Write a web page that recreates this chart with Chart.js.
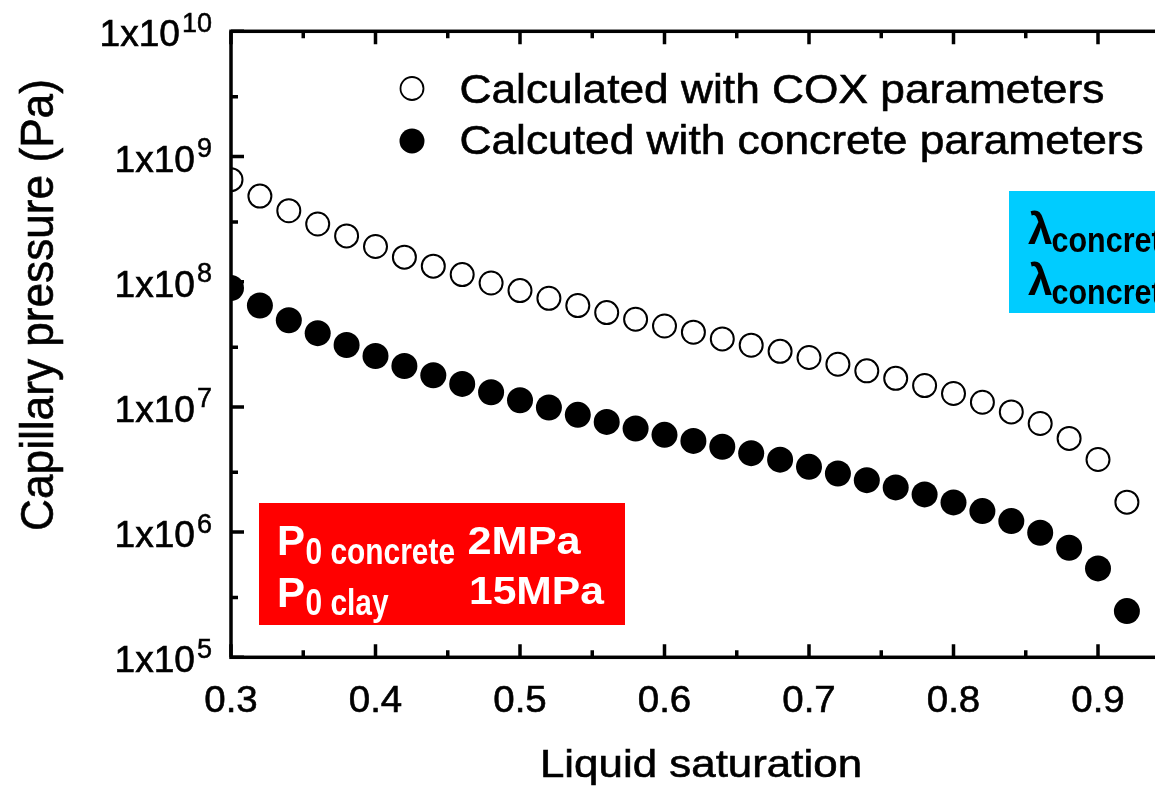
<!DOCTYPE html>
<html>
<head>
<meta charset="utf-8">
<script src="https://cdn.jsdelivr.net/npm/chart.js@4.4.1/dist/chart.umd.min.js"></script>
<style>
  html, body { margin: 0; padding: 0; background: #fff; overflow: hidden; }
  #wrap { width: 1155px; height: 788px; overflow: hidden; }
</style>
</head>
<body>
<div id="wrap"><canvas id="chart" width="1400" height="788"></canvas></div>
<script>
// liquid saturation (x) and capillary pressure in Pa (y)
const saturation = [0.30, 0.32, 0.34, 0.36, 0.38, 0.40, 0.42, 0.44, 0.46, 0.48,
  0.50, 0.52, 0.54, 0.56, 0.58, 0.60, 0.62, 0.64, 0.66, 0.68,
  0.70, 0.72, 0.74, 0.76, 0.78, 0.80, 0.82, 0.84, 0.86, 0.88, 0.90, 0.92];
const coxPressure = [6.53e8, 4.83e8, 3.69e8, 2.89e8, 2.32e8, 1.91e8, 1.57e8, 1.33e8, 1.14e8, 9.76e7,
  8.49e7, 7.37e7, 6.45e7, 5.67e7, 5.01e7, 4.43e7, 3.95e7, 3.49e7, 3.11e7, 2.78e7,
  2.48e7, 2.19e7, 1.94e7, 1.69e7, 1.48e7, 1.28e7, 1.09e7, 9.12e6, 7.37e6, 5.6e6, 3.8e6, 1.735e6];
const concretePressure = [8.9e7, 6.45e7, 4.92e7, 3.88e7, 3.12e7, 2.55e7, 2.12e7, 1.79e7, 1.526e7, 1.31e7,
  1.13e7, 9.89e6, 8.64e6, 7.59e6, 6.72e6, 5.98e6, 5.35e6, 4.8e6, 4.27e6, 3.79e6,
  3.32e6, 2.94e6, 2.6e6, 2.275e6, 2.0e6, 1.726e6, 1.471e6, 1.224e6, 9.87e5, 7.49e5, 5.13e5, 2.34e5];

const seriesNames = ['Calculated with COX parameters', 'Calcuted with concrete parameters'];

const xMajorTicks = [0.3, 0.4, 0.5, 0.6, 0.7, 0.8, 0.9, 1.0];
const xTickLabels = ['0.3', '0.4', '0.5', '0.6', '0.7', '0.8', '0.9', '1.0'];
const xMinorTicks = [0.35, 0.45, 0.55, 0.65, 0.75, 0.85, 0.95];
const yExponents = [5, 6, 7, 8, 9, 10];
const yMinorTicks = [3e5, 3e6, 3e7, 3e8, 3e9];

const FONT = '"Liberation Sans", Arial, Helvetica, sans-serif';

// text with optional stretch; a thin outline thickens the regular weight a bit
function txt(ctx, s, x, y, font, sx, sy, align, heavy) {
  ctx.save();
  ctx.translate(x, y);
  ctx.scale(sx, sy);
  ctx.font = font;
  ctx.textAlign = align || 'left';
  ctx.textBaseline = 'alphabetic';
  ctx.fillText(s, 0, 0);
  if (heavy) {
    ctx.lineWidth = heavy;
    ctx.strokeStyle = ctx.fillStyle;
    ctx.strokeText(s, 0, 0);
  }
  ctx.restore();
}

const frame = {
  id: 'frame',
  afterDatasetsDraw(chart) {
    const ctx = chart.ctx, a = chart.chartArea;
    const xs = chart.scales.x, ys = chart.scales.y;
    ctx.save();
    ctx.strokeStyle = '#000';
    ctx.lineWidth = 3.5;
    ctx.strokeRect(a.left, a.top, a.right - a.left, a.bottom - a.top);
    ctx.beginPath();
    const tick = (len, vals, isX) => {
      vals.forEach(v => {
        if (isX) {
          const p = xs.getPixelForValue(v);
          ctx.moveTo(p, a.bottom); ctx.lineTo(p, a.bottom - len);
          ctx.moveTo(p, a.top); ctx.lineTo(p, a.top + len);
        } else {
          const p = ys.getPixelForValue(v);
          ctx.moveTo(a.left, p); ctx.lineTo(a.left + len, p);
          ctx.moveTo(a.right, p); ctx.lineTo(a.right - len, p);
        }
      });
    };
    tick(13, xMajorTicks, true);
    tick(7, xMinorTicks, true);
    tick(13, yExponents.map(e => Math.pow(10, e)), false);
    tick(7, yMinorTicks, false);
    ctx.stroke();

    // tick labels
    ctx.fillStyle = '#000';
    xMajorTicks.forEach((v, i) => {
      txt(ctx, xTickLabels[i], xs.getPixelForValue(v), 711.5, '37px ' + FONT, 1.04, 1, 'center', 0.6);
    });
    yExponents.forEach(e => {
      const p = ys.getPixelForValue(Math.pow(10, e));
      ctx.font = '27px ' + FONT;
      const w = ctx.measureText(String(e)).width;
      txt(ctx, String(e), 212, p + 0.5, '27px ' + FONT, 1, 1, 'right', 0.5);
      txt(ctx, '1x10', 212 - w - 2, p + 15, '36px ' + FONT, 1.03, 1, 'right', 0.6);
    });

    // axis titles
    txt(ctx, 'Liquid saturation', 701, 777, '38.5px ' + FONT, 1.14, 1, 'center', 0.6);
    ctx.save();
    ctx.translate(53, 305);
    ctx.rotate(-Math.PI / 2);
    txt(ctx, 'Capillary pressure (Pa)', 0, 0, '47px ' + FONT, 0.94, 1, 'center', 0.6);
    ctx.restore();
    ctx.restore();
  },
  afterDraw(chart) {
    const ctx = chart.ctx;
    ctx.save();
    // legend
    ctx.lineWidth = 1.8;
    ctx.strokeStyle = '#000';
    ctx.fillStyle = '#fff';
    ctx.beginPath(); ctx.arc(412, 88.5, 11.5, 0, Math.PI * 2); ctx.fill(); ctx.stroke();
    ctx.fillStyle = '#000';
    ctx.beginPath(); ctx.arc(412, 141, 12.5, 0, Math.PI * 2); ctx.fill();
    txt(ctx, seriesNames[0], 459.5, 102.5, '41px ' + FONT, 1.08, 1, 'left', 0.6);
    txt(ctx, seriesNames[1], 459.5, 153.5, '41px ' + FONT, 1.08, 1, 'left', 0.6);

    // red inset
    ctx.fillStyle = '#ff0000';
    ctx.fillRect(259, 503, 366, 122);
    ctx.fillStyle = '#fff';
    const B = 'bold ';
    txt(ctx, 'P', 277, 555, B + '42px ' + FONT, 1, 1);
    txt(ctx, '0 concrete', 305.5, 563.5, B + '30.5px ' + FONT, 0.98, 1.2);
    txt(ctx, '2MPa', 467.5, 554, B + '38px ' + FONT, 1.14, 1);
    txt(ctx, 'P', 277, 606.5, B + '42px ' + FONT, 1, 1);
    txt(ctx, '0 clay', 305.5, 615, B + '30.5px ' + FONT, 0.98, 1.2);
    txt(ctx, '15MPa', 469, 603.5, B + '38px ' + FONT, 1.12, 1);

    // blue inset
    ctx.fillStyle = '#00ccff';
    ctx.fillRect(1009, 191, 400, 122);
    ctx.fillStyle = '#000';
    txt(ctx, '\u03bb', 1028, 243.5, B + '44px ' + FONT, 1, 1);
    txt(ctx, 'concrete', 1051.5, 251.5, B + '30.5px ' + FONT, 1, 1.15);
    txt(ctx, '\u03bb', 1028, 295, B + '44px ' + FONT, 1, 1);
    txt(ctx, 'concrete', 1051.5, 303.5, B + '30.5px ' + FONT, 1, 1.15);
    ctx.restore();
  }
};

new Chart(document.getElementById('chart').getContext('2d'), {
  type: 'scatter',
  data: {
    datasets: [{
      label: seriesNames[0],
      data: saturation.map((s, i) => ({ x: s, y: coxPressure[i] })),
      pointRadius: 11.5,
      borderWidth: 2,
      borderColor: '#000',
      backgroundColor: '#fff',
      clip: 0
    }, {
      label: seriesNames[1],
      data: saturation.map((s, i) => ({ x: s, y: concretePressure[i] })),
      pointRadius: 13,
      borderWidth: 0,
      borderColor: '#000',
      backgroundColor: '#000',
      clip: 0
    }]
  },
  options: {
    responsive: false,
    animation: false,
    layout: { padding: { left: 231, top: 31.3, right: 1400 - 1242.5, bottom: 788 - 657.3 } },
    plugins: { legend: { display: false }, tooltip: { enabled: false } },
    scales: {
      x: { type: 'linear', min: 0.3, max: 1.0, display: false },
      y: { type: 'logarithmic', min: 1e5, max: 1e10, display: false }
    }
  },
  plugins: [frame]
});
</script>
</body>
</html>
